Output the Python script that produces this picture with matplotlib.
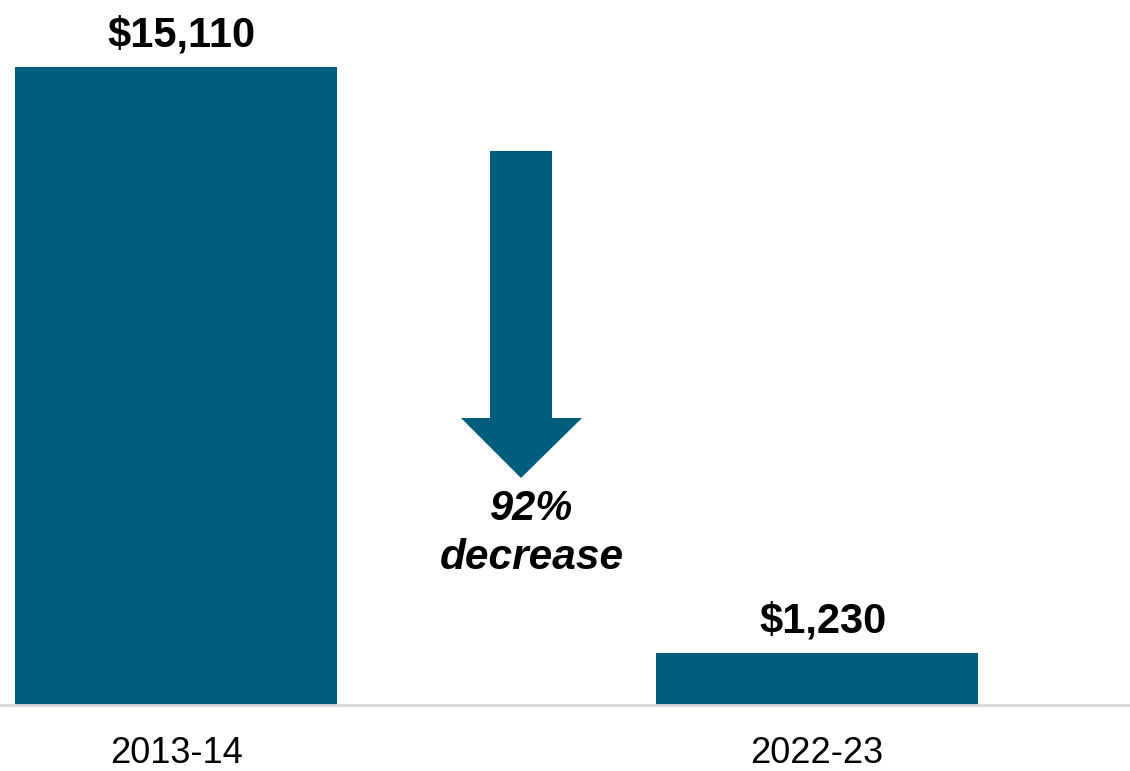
import numpy as np
import matplotlib.pyplot as plt
from matplotlib.patches import Polygon

plt.rcParams['font.family'] = ['Liberation Sans', 'DejaVu Sans']

# データ
years = ['2013-14', '2022-23']
values = [15110, 1230]
bar_color = '#005D7E'

W, H = 1130, 771
fig = plt.figure(figsize=(W / 100, H / 100), dpi=100)
# 軸は横いっぱい、下端はベースライン(y=705px)
base_px = 705
ax = fig.add_axes([0, (H - base_px) / H, 1, base_px / H])

x = np.arange(len(years))
ax.bar(x, values, width=0.502, color=bar_color)
ax.set_xlim(-0.2746, 1.488)
ax.set_ylim(0, values[0] * base_px / (base_px - 67))

for xi, v in zip(x, values):
    ax.annotate(f'${v:,}', (xi, v), xytext=(4, 8), textcoords='offset points',
                ha='center', va='bottom', fontsize=30, fontweight='bold')

ax.set_xticks(x)
ax.set_xticklabels(years, fontsize=26)
ax.tick_params(axis='x', length=0, pad=22)
ax.set_yticks([])
for s in ['top', 'left', 'right']:
    ax.spines[s].set_visible(False)
ax.spines['bottom'].set_color('#D9D9D9')
ax.spines['bottom'].set_linewidth(2)

# 下向き矢印（ピクセル座標 → 図座標）
pts = [(490, 151), (552, 151), (552, 418), (582, 418), (521, 478),
       (461, 418), (490, 418)]
pts = [(px / W, 1 - py / H) for px, py in pts]
fig.patches.append(Polygon(pts, closed=True, transform=fig.transFigure,
                           facecolor=bar_color, edgecolor='none'))

fig.text(531 / W, 1 - 509 / H, '92%', ha='center', va='center',
         fontsize=30, fontweight='bold', fontstyle='italic')
fig.text(532 / W, 1 - 558 / H, 'decrease', ha='center', va='center',
         fontsize=30.5, fontweight='bold', fontstyle='italic')

fig.savefig('out.png', dpi=100)
